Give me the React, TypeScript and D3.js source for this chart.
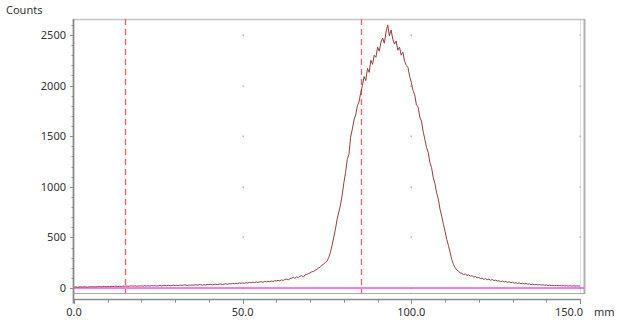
import React from "react";
import * as d3 from "d3";

// x positions in mm, sampled every 0.5 mm from 0 to 150
const xStart = 0;
const xStep = 0.5;
const counts: number[] = [
  // 0 - 4.5
  8, 11, 7, 10, 12, 9, 13, 10, 8, 12,
  // 5 - 9.5
  11, 14, 10, 13, 12, 15, 11, 14, 16, 12,
  // 10 - 14.5
  15, 13, 17, 14, 16, 18, 13, 17, 15, 19,
  // 15 - 19.5
  17, 20, 16, 19, 21, 18, 22, 17, 20, 19,
  // 20 - 24.5
  21, 18, 23, 20, 22, 19, 24, 21, 23, 20,
  // 25 - 29.5
  22, 25, 21, 24, 26, 23, 27, 22, 25, 28,
  // 30 - 34.5
  24, 27, 25, 29, 26, 28, 31, 25, 29, 27,
  // 35 - 39.5
  30, 27, 32, 29, 31, 34, 28, 33, 30, 35,
  // 40 - 44.5
  32, 36, 31, 35, 38, 33, 37, 40, 34, 39,
  // 45 - 49.5
  41, 37, 43, 40, 45, 42, 47, 44, 49, 46,
  // 50 - 54.5
  50, 46, 54, 49, 56, 51, 58, 53, 60, 55,
  // 55 - 59.5
  59, 63, 56, 65, 60, 67, 62, 69, 64, 72,
  // 60 - 64.5
  70, 76, 71, 80, 74, 84, 88, 80, 92, 96,
  // 65 - 69.5
  104, 95, 110, 102, 116, 122, 110, 130, 134, 142,
  // 70 - 74.5
  150, 160, 163, 176, 183, 198, 206, 225, 236, 252,
  // 75 - 79.5
  265, 300, 350, 420, 500, 580, 680, 750, 820, 920,
  // 80 - 84.5
  1040, 1140, 1270, 1320, 1490, 1570, 1660, 1710, 1800, 1840,
  // 85 - 89.5
  1930, 2000, 2090, 2050, 2170, 2130, 2250, 2210, 2300, 2280,
  // 90 - 94.5
  2380, 2340, 2430, 2470, 2420, 2530, 2600, 2490, 2550, 2460,
  // 95 - 99.5
  2410, 2440, 2350, 2380, 2300, 2330, 2240, 2200, 2180, 2090,
  // 100 - 104.5
  2030, 1950, 1910, 1810, 1790, 1690, 1650, 1550, 1470, 1390,
  // 105 - 109.5
  1340, 1240, 1190, 1090, 1030, 940, 880, 780, 710, 630,
  // 110 - 114.5
  560, 480, 420, 350, 280, 230, 200, 178, 165, 150,
  // 115 - 119.5
  145, 132, 140, 124, 130, 116, 122, 108, 114, 100,
  // 120 - 124.5
  104, 93, 98, 86, 92, 82, 88, 76, 84, 73,
  // 125 - 129.5
  78, 68, 72, 62, 69, 58, 65, 56, 61, 52,
  // 130 - 134.5
  57, 48, 53, 45, 50, 42, 47, 40, 44, 37,
  // 135 - 139.5
  41, 34, 38, 32, 36, 30, 34, 28, 32, 27,
  // 140 - 144.5
  30, 25, 28, 24, 27, 23, 26, 22, 25, 21,
  // 145 - 149.5
  24, 20, 23, 20, 22, 19, 22, 19, 21, 19,
  // 150
  20,
];

const markerLines: number[] = [15, 85];
const yTickLabels: number[] = [0, 500, 1000, 1500, 2000, 2500];
const xTickLabels: number[] = [0, 50, 100, 150];
const xUnit = "mm";
const yTitle = "Counts";

const W = 618;
const H = 324;
const FONT = "'Noto Sans', 'DejaVu Sans', sans-serif";

export default function App() {
  const x = d3.scaleLinear().domain([0, 150]).range([74, 580]);
  const y = d3.scaleLinear().domain([0, 2500]).range([288, 35]);

  const plotLeft = 74;
  const plotRight = 585;
  const plotTop = 19;
  const plotBottom = 293;
  const axisY = 299.5;

  const pts: [number, number][] = counts.map((c, i) => [xStart + i * xStep, c]);
  const line = d3
    .line<[number, number]>()
    .x((d) => x(d[0]))
    .y((d) => y(d[1]));

  const xMinor = d3.range(0, 151, 10);
  const yMinor = d3.range(0, 2601, 100);

  const dots: [number, number][] = [];
  for (const gx of [50, 100, 150]) for (const gy of yTickLabels) dots.push([gx, gy]);

  return (
    <svg
      width={W}
      height={H}
      style={{ position: "fixed", left: 0, top: 0, background: "#fff" }}
      fontFamily={FONT}
    >
      <rect x={0} y={0} width={W} height={H} fill="#fff" />
      {/* y title */}
      <text x={6} y={14} fontSize={11} fill="#333">
        {yTitle}
      </text>

      {/* light vertical line at 150 */}
      <line x1={x(150) + 0.5} x2={x(150) + 0.5} y1={plotTop} y2={plotBottom} stroke="#e2e2e2" strokeWidth={1} />

      {/* grid dots */}
      {dots.map(([gx, gy], i) => (
        <rect key={i} x={Math.round(x(gx)) - 0.5} y={Math.round(y(gy)) - 0.5} width={1.5} height={1.5} fill="#a8a8ff" />
      ))}

      {/* frame */}
      <line x1={plotLeft} x2={plotRight} y1={plotTop + 0.5} y2={plotTop + 0.5} stroke="#c4c4c4" strokeWidth={1.5} />
      <line x1={plotRight - 0.5} x2={plotRight - 0.5} y1={plotTop} y2={plotBottom + 1} stroke="#b0b0b0" strokeWidth={2} />
      <line x1={plotLeft} x2={plotRight} y1={plotBottom + 0.5} y2={plotBottom + 0.5} stroke="#a8a8a8" strokeWidth={1} />

      {/* zero line */}
      <line x1={plotLeft} x2={plotRight - 1} y1={y(0)} y2={y(0)} stroke="#f050f0" strokeWidth={1.6} />

      {/* marker lines */}
      {markerLines.map((m) => (
        <line
          key={m}
          x1={Math.round(x(m)) + 0.5}
          x2={Math.round(x(m)) + 0.5}
          y1={plotTop}
          y2={plotBottom}
          stroke="#ff5c5c"
          strokeWidth={1.3}
          strokeDasharray="6,4"
        />
      ))}

      {/* data */}
      <path d={line(pts) || ""} fill="none" stroke="#93403f" strokeWidth={1} strokeLinejoin="round" />

      {/* x axis */}
      <line x1={plotLeft} x2={x(150) + 1} y1={axisY} y2={axisY} stroke="#8a8a8a" strokeWidth={1.5} />
      {xMinor.map((t) => (
        <line
          key={t}
          x1={Math.round(x(t)) + 0.5}
          x2={Math.round(x(t)) + 0.5}
          y1={axisY}
          y2={axisY + (t % 50 === 0 ? 4.5 : 3)}
          stroke="#8a8a8a"
          strokeWidth={1}
        />
      ))}
      {xTickLabels.map((t, i) => (
        <text
          key={t}
          x={i === xTickLabels.length - 1 ? x(t) + 3 : x(t)}
          y={316}
          fontSize={11}
          fill="#333"
          textAnchor={i === xTickLabels.length - 1 ? "end" : "middle"}
        >
          {t.toFixed(1)}
        </text>
      ))}
      <text x={594} y={316} fontSize={11} fill="#333">
        {xUnit}
      </text>

      {/* y axis */}
      <line x1={plotLeft - 0.5} x2={plotLeft - 0.5} y1={plotTop} y2={axisY + 4} stroke="#8a8a8a" strokeWidth={1.8} />
      {yMinor.map((t) => (
        <line
          key={t}
          x1={plotLeft - 1}
          x2={plotLeft - (t % 500 === 0 ? 4 : 2.5)}
          y1={Math.round(y(t)) + 0.5}
          y2={Math.round(y(t)) + 0.5}
          stroke="#8a8a8a"
          strokeWidth={1}
        />
      ))}
      {yTickLabels.map((t) => (
        <text key={t} x={66} y={y(t)} dy="0.36em" fontSize={11} fill="#333" textAnchor="end">
          {t}
        </text>
      ))}
    </svg>
  );
}
